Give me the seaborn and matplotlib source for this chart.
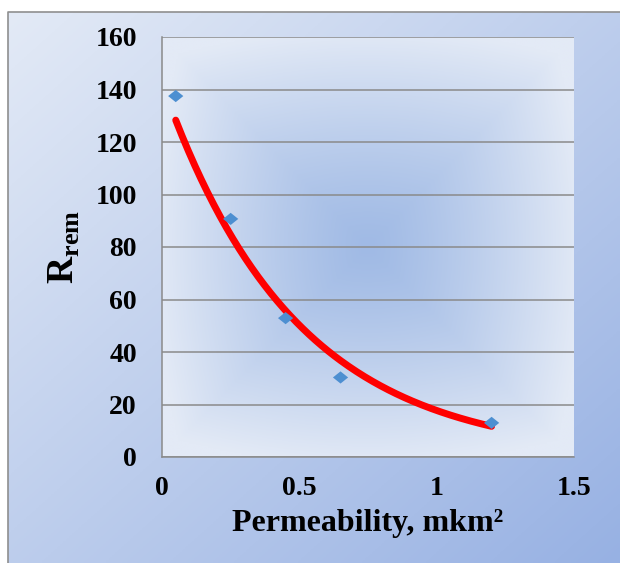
import numpy as np
import pandas as pd
import matplotlib
matplotlib.use("Agg")
import matplotlib.pyplot as plt
from matplotlib.colors import to_rgb
import seaborn as sns

# measured points
permeability = [0.05, 0.25, 0.45, 0.65, 1.2]
r_rem = [137.5, 90.7, 52.9, 30.3, 13.0]

sns.set_theme(style="white")
plt.rcParams['font.family'] = ['Liberation Serif', 'DejaVu Serif']
plt.rcParams['font.weight'] = 'bold'
plt.rcParams['mathtext.fontset'] = 'custom'
plt.rcParams['mathtext.rm'] = 'Liberation Serif'
plt.rcParams['mathtext.bf'] = 'Liberation Serif:bold'

df = pd.DataFrame({"x": permeability, "y": r_rem})

# exponential trendline y = a*exp(b*x), fitted like an Excel trendline
b, lna = np.polyfit(df["x"], np.log(df["y"]), 1)
xs = np.linspace(min(permeability), max(permeability), 200)
trend = pd.DataFrame({"x": xs, "y": np.exp(lna) * np.exp(b * xs)})

W, H = 620, 563
fig = plt.figure(figsize=(W / 100, H / 100), dpi=100)
fig.patch.set_facecolor("white")

# outer background: diagonal gradient inside a thin grey frame
bg = fig.add_axes([0, 0, 1, 1], zorder=-10)
gy, gx = np.mgrid[0:1:200j, 0:1:200j]
t = np.clip((gx + gy) / 2, 0, 1)
c0, c1 = np.array(to_rgb("#e3eaf6")), np.array(to_rgb("#97b1e3"))
img = c0 * (1 - t[..., None]) + c1 * t[..., None]
bg.imshow(img, extent=(8 / W, 1, 0, 1 - 12 / H), aspect="auto", origin="upper")
bg.plot([8 / W, 8 / W, 1], [0, 1 - 12 / H, 1 - 12 / H], color="#8f8f8f", lw=1.2)
bg.set_xlim(0, 1)
bg.set_ylim(0, 1)
bg.axis("off")

ax = fig.add_axes([162 / W, 1 - 457 / H, (574 - 162) / W, (457 - 37) / H])

# plot area: soft rectangular gradient from the centre
py, px = np.mgrid[-1:1:300j, -1:1:300j]
rect = np.maximum(np.abs(px), np.abs(py))
rad = np.sqrt(px ** 2 + py ** 2) / np.sqrt(2)
r = np.clip((0.6 * rect + 0.4 * rad) / 0.92, 0, 1) ** 1.25
ce, ed = np.array(to_rgb("#a0bae5")), np.array(to_rgb("#e3eaf6"))
pimg = ce * (1 - r[..., None]) + ed * r[..., None]
ax.imshow(pimg, extent=(0, 1.5, 0, 160), aspect="auto", zorder=0)

sns.lineplot(data=trend, x="x", y="y", ax=ax, color="#ff0000", lw=5,
             zorder=3, legend=False)
diamond = [(-1, 0), (0, 0.8), (1, 0), (0, -0.8), (-1, 0)]
sns.scatterplot(data=df, x="x", y="y", ax=ax, marker=diamond, s=120,
                color="#4d8fd1", edgecolor="none", zorder=4, legend=False)

ax.set_xlim(0, 1.5)
ax.set_ylim(0, 160)
ax.set_xticks([0, 0.5, 1, 1.5])
ax.set_xticklabels(["0", "0.5", "1", "1.5"])
ax.set_yticks(range(0, 161, 20))
ax.yaxis.grid(True, color="#8a8a8a", lw=1.1, zorder=1)
ax.set_axisbelow(False)
for s in ["top", "right"]:
    ax.spines[s].set_visible(False)
for s in ["left", "bottom"]:
    ax.spines[s].set_color("#8a8a8a")
    ax.spines[s].set_linewidth(1.1)
ax.tick_params(axis="both", direction="out", length=7, width=1.1,
               color="#8a8a8a", labelsize=20, labelcolor="black")
ax.tick_params(axis="x", pad=7)
ax.tick_params(axis="y", pad=11)
for lab in ax.get_xticklabels() + ax.get_yticklabels():
    lab.set_fontweight("bold")

ax.set_xlabel("Permeability, mkm²", fontsize=23, fontweight="bold", color="black")
ax.xaxis.set_label_coords(0.5, -0.125)
ax.set_ylabel(r"$\mathbf{R}_{\mathbf{rem}}$", fontsize=27, color="black")
ax.yaxis.set_label_coords(-0.195, 0.5)

fig.savefig("out.png", dpi=100)
